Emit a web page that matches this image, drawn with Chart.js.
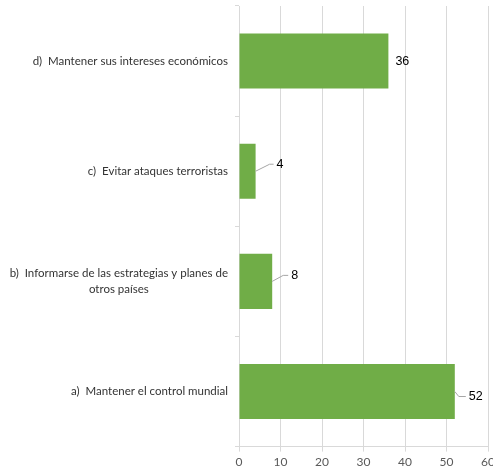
<!DOCTYPE html>
<html>
<head>
<meta charset="utf-8">
<script src="https://cdn.jsdelivr.net/npm/chart.js@4/dist/chart.umd.min.js"></script>
<style>
    html, body { margin: 0; padding: 0; background: #fff; overflow: hidden; }
    #wrap { position: relative; width: 502px; height: 472px; }
</style>
</head>
<body>
<div id="wrap"><canvas id="grafico"></canvas></div>
<script>
    "use strict";

    // respuestas de la encuesta
    var categorias = [
        ["d)  Mantener sus intereses económicos"],
        ["c)  Evitar ataques terroristas"],
        ["b)  Informarse de las estrategias y planes de", "otros países"],
        ["a)  Mantener el control mundial"]
    ];
    var valores = [36, 4, 8, 52];
    var ejeMin = 0, ejeMax = 60, ejePaso = 10;

    // posicion de cada etiqueta respecto al final de la barra: [codoX, codoY, finX, textoX]
    var guias = [
        null,
        [14, -7, 18, 21],
        [11, -6, 16, 19],
        [4, 5, 11, 14]
    ];

    var verde = "#70ad47";
    var gris = "#d9d9d9";
    var fuente = "Lato, 'Open Sans', sans-serif";

    // etiquetas de categoria: alineadas a la derecha, las de dos lineas centradas entre si
    var etiquetasY = {
        id: "etiquetasY",
        afterDraw: function (chart) {
            var ctx = chart.ctx, eje = chart.scales.y;
            ctx.save();
            ctx.font = "11.5px " + fuente;
            ctx.fillStyle = "#333";
            ctx.textBaseline = "middle";
            for (var i = 0; i < categorias.length; i++) {
                var lineas = categorias[i], ancho = 0;
                for (var j = 0; j < lineas.length; j++)
                    ancho = Math.max(ancho, ctx.measureText(lineas[j]).width);
                var derecha = eje.right - 11;
                var centro = derecha - ancho / 2;
                var y = eje.getPixelForValue(i);
                var alto = 16;
                var y0 = y - (lineas.length - 1) * alto / 2;
                ctx.textAlign = "center";
                for (var j = 0; j < lineas.length; j++)
                    ctx.fillText(lineas[j], centro, y0 + j * alto);
            }
            ctx.restore();
        }
    };

    // valores al final de cada barra con su linea guia
    var etiquetasValor = {
        id: "etiquetasValor",
        afterDatasetsDraw: function (chart) {
            var ctx = chart.ctx, barras = chart.getDatasetMeta(0).data;
            ctx.save();
            ctx.font = "12.5px 'Liberation Sans', Arial, sans-serif";
            ctx.fillStyle = "#000";
            ctx.textBaseline = "middle";
            ctx.textAlign = "left";
            ctx.strokeStyle = "#a6a6a6";
            ctx.lineWidth = 1;
            for (var i = 0; i < barras.length; i++) {
                var b = barras[i], g = guias[i];
                if (!g) {
                    ctx.fillText(String(valores[i]), b.x + 7, b.y);
                    continue;
                }
                ctx.beginPath();
                ctx.moveTo(b.x, b.y);
                ctx.lineTo(b.x + g[0], b.y + g[1]);
                ctx.lineTo(b.x + g[2], b.y + g[1]);
                ctx.stroke();
                ctx.fillText(String(valores[i]), b.x + g[3], b.y + g[1]);
            }
            ctx.restore();
        }
    };

    var ctx = document.getElementById("grafico").getContext("2d");
    var grafico = new Chart(ctx, {
        type: "bar",
        data: {
            labels: categorias,
            datasets: [{
                data: valores,
                backgroundColor: verde,
                borderWidth: 0,
                categoryPercentage: 0.5,
                barPercentage: 1
            }]
        },
        options: {
            indexAxis: "y",
            responsive: true,
            maintainAspectRatio: false,
            animation: false,
            layout: { padding: { top: 6, right: 14, left: 0, bottom: 0 } },
            plugins: {
                legend: { display: false },
                tooltip: { enabled: false }
            },
            scales: {
                x: {
                    min: ejeMin,
                    max: ejeMax,
                    ticks: {
                        stepSize: ejePaso,
                        color: "#595959",
                        font: { family: fuente, size: 12 },
                        padding: 3,
                        maxRotation: 0
                    },
                    grid: { color: gris, tickLength: 5, tickColor: gris },
                    border: { color: gris }
                },
                y: {
                    ticks: { display: false },
                    grid: { drawOnChartArea: false, tickLength: 4, color: gris, offset: true },
                    border: { color: gris },
                    afterFit: function (eje) { eje.width = 239; }
                }
            }
        },
        plugins: [etiquetasY, etiquetasValor]
    });
</script>
</body>
</html>
